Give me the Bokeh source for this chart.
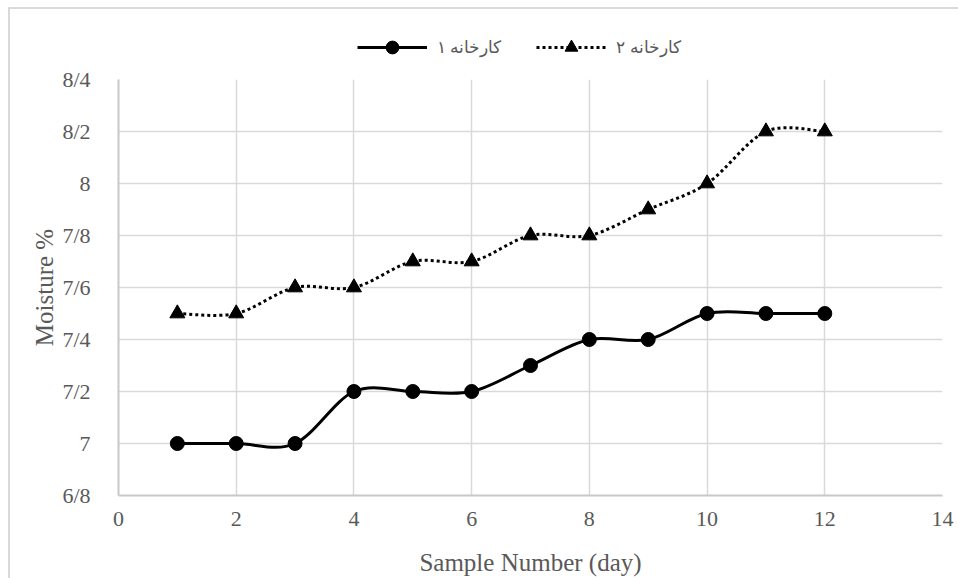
from bokeh.plotting import figure
from bokeh.layouts import column
from bokeh.models import FixedTicker, Legend, LegendItem
from bokeh.embed import file_html
from bokeh.resources import INLINE

# ---- data ----
days = [1, 2, 3, 4, 5, 6, 7, 8, 9, 10, 11, 12]
factory1 = [7.0, 7.0, 7.0, 7.2, 7.2, 7.2, 7.3, 7.4, 7.4, 7.5, 7.5, 7.5]
factory2 = [7.5, 7.5, 7.6, 7.6, 7.7, 7.7, 7.8, 7.8, 7.9, 8.0, 8.2, 8.2]
series_labels = ["کارخانه ۱", "کارخانه ۲"]
x_ticks = [0, 2, 4, 6, 8, 10, 12, 14]
y_ticks = [6.8, 7.0, 7.2, 7.4, 7.6, 7.8, 8.0, 8.2, 8.4]
y_tick_labels = ["6/8", "7", "7/2", "7/4", "7/6", "7/8", "8", "8/2", "8/4"]
x_title = "Sample Number (day)"
y_title = "Moisture %"

FONT = "Liberation Serif"
TXT = "#595959"
GRID = "#d9d9d9"


def smooth_segments(xs, ys):
    """Bezier control points (Excel-like smoothing) derived from the data."""
    n = len(xs)
    seg = dict(x0=[], y0=[], x1=[], y1=[], cx0=[], cy0=[], cx1=[], cy1=[])
    for i in range(n - 1):
        a = max(i - 1, 0)
        b = i
        c = i + 1
        d = min(i + 2, n - 1)
        seg["x0"].append(xs[b]); seg["y0"].append(ys[b])
        seg["x1"].append(xs[c]); seg["y1"].append(ys[c])
        seg["cx0"].append(xs[b] + (xs[c] - xs[a]) / 6.0)
        seg["cy0"].append(ys[b] + (ys[c] - ys[a]) / 6.0)
        seg["cx1"].append(xs[c] - (xs[d] - xs[b]) / 6.0)
        seg["cy1"].append(ys[c] - (ys[d] - ys[b]) / 6.0)
    return seg


s1 = smooth_segments(days, factory1)
s2 = smooth_segments(days, factory2)
style1 = dict(line_color="black", line_width=3)
style2 = dict(line_color="black", line_width=3, line_dash="3 3")

# ---------------- main plot ----------------
p = figure(width=948, height=513, x_range=(0, 14), y_range=(6.8, 8.4),
           output_backend="svg", toolbar_location=None,
           min_border_left=108, min_border_right=16,
           min_border_top=14, min_border_bottom=83)
p.outline_line_color = None
p.background_fill_color = "white"
p.border_fill_color = "white"

p.xaxis.ticker = FixedTicker(ticks=x_ticks)
p.yaxis.ticker = FixedTicker(ticks=y_ticks)
p.yaxis.major_label_overrides = {t: l for t, l in zip(y_ticks, y_tick_labels)}
p.xgrid.grid_line_color = GRID
p.ygrid.grid_line_color = GRID
p.xgrid.grid_line_width = 1.5
p.ygrid.grid_line_width = 1.5

for ax in (p.xaxis, p.yaxis):
    ax.axis_line_color = "#c8c8c8"
    ax.axis_line_width = 2
    ax.major_tick_line_color = None
    ax.minor_tick_line_color = None
    ax.major_tick_out = 0
    ax.major_tick_in = 0
    ax.major_label_text_font = FONT
    ax.major_label_text_font_size = "22px"
    ax.major_label_text_color = TXT
    ax.axis_label_text_font = FONT
    ax.axis_label_text_font_size = "25px"
    ax.axis_label_text_color = TXT
    ax.axis_label_text_font_style = "normal"

p.xaxis.axis_label = x_title
p.yaxis.axis_label = y_title
p.xaxis.major_label_standoff = 16
p.yaxis.major_label_standoff = 28
p.xaxis.axis_label_standoff = 20
p.yaxis.axis_label_standoff = 1

p.bezier(**style1, **s1)
p.bezier(**style2, **s2)
p.scatter(days, factory1, marker="circle", size=14, color="black")
p.scatter(days, factory2, marker="triangle", size=15, color="black")

# ---------------- legend strip ----------------
top = figure(width=948, height=56, x_range=(0, 14), y_range=(6.8, 8.4),
             output_backend="svg", toolbar_location=None,
             x_axis_location=None, y_axis_location=None,
             min_border=0)
top.outline_line_color = None
top.background_fill_color = "white"
top.border_fill_color = "white"
top.grid.visible = False

lb1 = top.bezier(**style1, **s1, visible=False)
lb2 = top.bezier(**style2, **s2, visible=False)
lm1 = top.scatter(days, factory1, marker="circle", size=14, color="black", visible=False)
lm2 = top.scatter(days, factory2, marker="triangle", size=15, color="black", visible=False)

legend = Legend(items=[LegendItem(label=series_labels[0], renderers=[lb1, lm1]),
                       LegendItem(label=series_labels[1], renderers=[lb2, lm2])],
                orientation="horizontal", location=(239, 2),
                glyph_width=70, glyph_height=32, label_height=32,
                spacing=35, label_standoff=10, padding=0, margin=0,
                border_line_color=None, background_fill_alpha=0,
                inactive_fill_alpha=0,
                label_text_font=FONT, label_text_font_size="17px",
                label_text_color=TXT)
top.add_layout(legend)

layout = column(top, p, spacing=0)
layout.styles = {"margin-left": "8px", "margin-top": "7px",
                 "border-left": "2px solid #d9d9d9", "border-top": "2px solid #d9d9d9"}

open("out.html", "w").write(file_html(layout, INLINE))
